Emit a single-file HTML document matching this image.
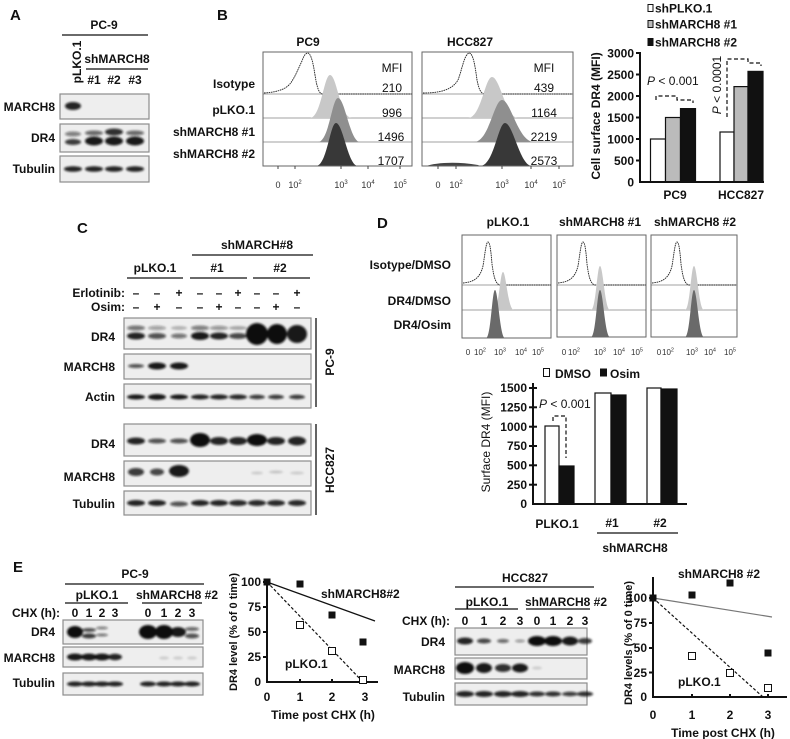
<!DOCTYPE html>
<html><head><meta charset="utf-8"><style>
html,body{margin:0;padding:0;background:#fff;}
svg{display:block;}
text{font-family:"Liberation Sans",Arial,sans-serif;fill:#111;}
.b{font-weight:bold;font-size:12px;}
.n{font-size:12px;}
.L{font-weight:bold;font-size:15px;}
.t{font-size:9px;fill:#333;}
.td{font-size:8px;fill:#333;}
.blot{fill:#eeeeee;stroke:#8c8c8c;stroke-width:1.2;}
.ln{stroke:#111;stroke-width:1.3;}
.ax{stroke:#111;stroke-width:2;fill:none;}
.hb{fill:#fff;stroke:#777;stroke-width:1;}
.dv{stroke:#a0a0a0;stroke-width:1;}
.iso{fill:none;stroke:#222;stroke-width:0.9;stroke-dasharray:1.6 0.7;}
.dash{fill:none;stroke:#111;stroke-width:1.2;stroke-dasharray:4 2.5;}
</style></head><body>
<svg width="790" height="739" viewBox="0 0 790 739" xmlns="http://www.w3.org/2000/svg">
<defs>
<filter id="f" x="-50%" y="-100%" width="200%" height="300%"><feGaussianBlur stdDeviation="1.1"/></filter>
</defs>
<rect width="790" height="739" fill="#fff"/>

<!-- ============ PANEL A ============ -->
<text class="L" x="10" y="20">A</text>
<text class="b" x="104" y="29" text-anchor="middle">PC-9</text>
<line class="ln" x1="62" y1="35" x2="148" y2="35"/>
<text class="b" transform="translate(81,62) rotate(-90)" text-anchor="middle">pLKO.1</text>
<text class="b" x="117" y="63" text-anchor="middle">shMARCH8</text>
<line class="ln" x1="86" y1="69" x2="148" y2="69"/>
<text class="b" x="94" y="84" text-anchor="middle">#1</text>
<text class="b" x="114" y="84" text-anchor="middle">#2</text>
<text class="b" x="135" y="84" text-anchor="middle">#3</text>
<text class="b" x="55" y="111" text-anchor="end">MARCH8</text>
<text class="b" x="55" y="142" text-anchor="end">DR4</text>
<text class="b" x="55" y="173" text-anchor="end">Tubulin</text>
<rect class="blot" x="60" y="94" width="89" height="25"/>
<rect class="blot" x="60" y="124" width="89" height="28"/>
<rect class="blot" x="60" y="156" width="89" height="26"/>
<g fill="#111" filter="url(#f)">
<ellipse cx="73" cy="106" rx="8" ry="4" opacity=".9"/>
<ellipse cx="73" cy="142" rx="8" ry="3" opacity=".8"/><ellipse cx="73" cy="134" rx="8" ry="2.5" opacity=".5"/>
<ellipse cx="94" cy="141" rx="9" ry="4.5" opacity=".95"/><ellipse cx="94" cy="133" rx="9" ry="2.5" opacity=".6"/>
<ellipse cx="114" cy="141" rx="9" ry="4.5" opacity=".95"/><ellipse cx="114" cy="132" rx="9" ry="3.5" opacity=".85"/>
<ellipse cx="135" cy="141" rx="9" ry="4.5" opacity=".95"/><ellipse cx="135" cy="133" rx="9" ry="2.5" opacity=".6"/>
<ellipse cx="73" cy="169" rx="9" ry="2.8" opacity=".9"/><ellipse cx="94" cy="169" rx="9" ry="2.8" opacity=".9"/>
<ellipse cx="114" cy="169" rx="9" ry="2.8" opacity=".9"/><ellipse cx="135" cy="169" rx="9" ry="2.8" opacity=".9"/>
</g>

<!-- ============ PANEL B histograms ============ -->
<text class="L" x="217" y="20">B</text>
<text class="b" x="308" y="46" text-anchor="middle">PC9</text>
<text class="b" x="470" y="46" text-anchor="middle">HCC827</text>
<text class="b" x="255" y="88" text-anchor="end">Isotype</text>
<text class="b" x="255" y="114" text-anchor="end">pLKO.1</text>
<text class="b" x="255" y="136" text-anchor="end">shMARCH8 #1</text>
<text class="b" x="255" y="158" text-anchor="end">shMARCH8 #2</text>

<rect class="hb" x="263" y="52" width="149" height="114"/>
<rect class="hb" x="422" y="52" width="151" height="114"/>
<line class="dv" x1="263" y1="94" x2="412" y2="94"/><line class="dv" x1="263" y1="118" x2="412" y2="118"/><line class="dv" x1="263" y1="142" x2="412" y2="142"/>
<line class="dv" x1="422" y1="94" x2="573" y2="94"/><line class="dv" x1="422" y1="118" x2="573" y2="118"/><line class="dv" x1="422" y1="142" x2="573" y2="142"/>
<!-- PC9 -->
<path class="iso" d="M264,93 C280,92 288,88 292,81 C296,75 298,69 302,61 C304,55 306,53 308,53 C311,54 313,62 315,75 C317,88 319,93 322,94 L412,94"/>
<path d="M310,118 C321,118 324,75 330,75 C337,75 340,118 352,118 Z" fill="#c8c8c8"/>
<path d="M318,142 C329,142 332,98 338,98 C345,98 350,142 360,142 Z" fill="#8f8f8f"/>
<path d="M316,166 C327,166 330,123 336,123 C343,123 348,166 358,166 Z" fill="#383838"/>
<!-- HCC827 -->
<path class="iso" d="M423,93 C440,93 452,90 458,80 C462,70 464,55 469,53 C473,53 475,65 477,80 C479,90 481,93 484,94 L573,94"/>
<path d="M468,118 C481,118 485,77 492,77 C500,77 506,118 518,118 Z" fill="#c8c8c8"/>
<path d="M474,142 C489,142 494,100 502,100 C511,100 518,142 534,142 Z" fill="#8f8f8f"/>
<path d="M426,166 C435,163 455,161 478,165 L480,166 Z" fill="#444"/>
<path d="M480,166 C494,166 498,123 505,123 C513,123 520,166 532,166 Z" fill="#383838"/>
<rect x="263" y="52" width="149" height="114" fill="none" stroke="#666"/>
<rect x="422" y="52" width="151" height="114" fill="none" stroke="#666"/>
<!-- MFI -->
<g class="n" text-anchor="middle">
<text class="n" x="392" y="72" text-anchor="middle">MFI</text>
<text class="n" x="392" y="92" text-anchor="middle">210</text>
<text class="n" x="392" y="117" text-anchor="middle">996</text>
<text class="n" x="391" y="141" text-anchor="middle">1496</text>
<text class="n" x="391" y="165" text-anchor="middle">1707</text>
<text class="n" x="544" y="72" text-anchor="middle">MFI</text>
<text class="n" x="544" y="92" text-anchor="middle">439</text>
<text class="n" x="544" y="117" text-anchor="middle">1164</text>
<text class="n" x="544" y="141" text-anchor="middle">2219</text>
<text class="n" x="544" y="165" text-anchor="middle">2573</text>
</g>
<!-- ticks -->
<g stroke="#444" stroke-width="1">
<line x1="278" y1="166" x2="278" y2="169"/><line x1="295" y1="166" x2="295" y2="169"/><line x1="341" y1="166" x2="341" y2="169"/><line x1="368" y1="166" x2="368" y2="169"/><line x1="400" y1="166" x2="400" y2="169"/>
<line x1="438" y1="166" x2="438" y2="169"/><line x1="456" y1="166" x2="456" y2="169"/><line x1="502" y1="166" x2="502" y2="169"/><line x1="531" y1="166" x2="531" y2="169"/><line x1="559" y1="166" x2="559" y2="169"/>
</g>
<text class="t" x="278" y="188" text-anchor="middle">0</text>
<text class="t" x="295" y="188" text-anchor="middle">10<tspan font-size="6" dy="-4">2</tspan></text>
<text class="t" x="341" y="188" text-anchor="middle">10<tspan font-size="6" dy="-4">3</tspan></text>
<text class="t" x="368" y="188" text-anchor="middle">10<tspan font-size="6" dy="-4">4</tspan></text>
<text class="t" x="400" y="188" text-anchor="middle">10<tspan font-size="6" dy="-4">5</tspan></text>
<text class="t" x="438" y="188" text-anchor="middle">0</text>
<text class="t" x="456" y="188" text-anchor="middle">10<tspan font-size="6" dy="-4">2</tspan></text>
<text class="t" x="502" y="188" text-anchor="middle">10<tspan font-size="6" dy="-4">3</tspan></text>
<text class="t" x="531" y="188" text-anchor="middle">10<tspan font-size="6" dy="-4">4</tspan></text>
<text class="t" x="559" y="188" text-anchor="middle">10<tspan font-size="6" dy="-4">5</tspan></text>

<!-- ============ PANEL B bar chart ============ -->
<rect x="648" y="4.5" width="5" height="7" fill="#fff" stroke="#111"/>
<text class="b" x="655" y="12.5">shPLKO.1</text>
<rect x="648" y="20.5" width="5" height="7" fill="#bbb" stroke="#111"/>
<text class="b" x="655" y="28.5">shMARCH8 #1</text>
<rect x="648" y="38.5" width="5" height="7" fill="#111" stroke="#111"/>
<text class="b" x="655" y="46.5">shMARCH8 #2</text>

<text class="b" transform="translate(600,116) rotate(-90)" text-anchor="middle">Cell surface DR4 (MFI)</text>
<g class="b" text-anchor="end">
<text class="b" x="634" y="57.5" text-anchor="end">3000</text>
<text class="b" x="634" y="79" text-anchor="end">2500</text>
<text class="b" x="634" y="100.5" text-anchor="end">2000</text>
<text class="b" x="634" y="122" text-anchor="end">1500</text>
<text class="b" x="634" y="143.5" text-anchor="end">1000</text>
<text class="b" x="634" y="165" text-anchor="end">500</text>
<text class="b" x="634" y="186.5" text-anchor="end">0</text>
</g>
<g stroke="#111" stroke-width="1.2">
<rect x="650.5" y="139" width="15" height="43" fill="#fff"/>
<rect x="665.5" y="117.5" width="15" height="64.5" fill="#bbb"/>
<rect x="680.5" y="108.6" width="15" height="73.4" fill="#111"/>
<rect x="720" y="132" width="14" height="50" fill="#fff"/>
<rect x="734" y="86.6" width="14" height="95.4" fill="#bbb"/>
<rect x="748" y="71.4" width="15" height="110.6" fill="#111"/>
</g>
<path class="ax" d="M640,52 L640,182 L764,182"/>
<g stroke="#111" stroke-width="2">
<line x1="636" y1="53" x2="640" y2="53"/><line x1="636" y1="74.5" x2="640" y2="74.5"/><line x1="636" y1="96" x2="640" y2="96"/><line x1="636" y1="117.5" x2="640" y2="117.5"/><line x1="636" y1="139" x2="640" y2="139"/><line x1="636" y1="160.5" x2="640" y2="160.5"/>
</g>
<text class="b" x="675" y="199" text-anchor="middle">PC9</text>
<text class="b" x="741" y="199" text-anchor="middle">HCC827</text>
<text class="n" x="647" y="85"><tspan font-style="italic">P</tspan> &lt; 0.001</text>
<path class="dash" d="M656,100 L656,96 L677,96 L677,100 L693,100 L693,103"/>
<text class="n" transform="translate(721,85) rotate(-90)" text-anchor="middle"><tspan font-style="italic">P</tspan> &lt; 0.0001</text>
<path class="dash" d="M727,117 L727,59 L748,59 L748,63 L761,63 L761,66"/>

<!-- ============ PANEL C ============ -->
<text class="L" x="77" y="233">C</text>
<text class="b" x="257" y="249" text-anchor="middle">shMARCH#8</text>
<line class="ln" x1="192" y1="255" x2="313" y2="255"/>
<text class="b" x="155" y="272" text-anchor="middle">pLKO.1</text>
<text class="b" x="217" y="272" text-anchor="middle">#1</text>
<text class="b" x="280" y="272" text-anchor="middle">#2</text>
<line class="ln" x1="127" y1="278" x2="183" y2="278"/>
<line class="ln" x1="190" y1="278" x2="247" y2="278"/>
<line class="ln" x1="253" y1="278" x2="310" y2="278"/>
<text class="b" x="125" y="297" text-anchor="end">Erlotinib:</text>
<text class="b" x="125" y="311" text-anchor="end">Osim:</text>
<g class="b" text-anchor="middle">
<text class="b" x="136" y="297" text-anchor="middle">–</text><text class="b" x="157" y="297" text-anchor="middle">–</text><text class="b" x="179" y="297" text-anchor="middle">+</text>
<text class="b" x="200" y="297" text-anchor="middle">–</text><text class="b" x="219" y="297" text-anchor="middle">–</text><text class="b" x="238" y="297" text-anchor="middle">+</text>
<text class="b" x="257" y="297" text-anchor="middle">–</text><text class="b" x="276" y="297" text-anchor="middle">–</text><text class="b" x="297" y="297" text-anchor="middle">+</text>
<text class="b" x="136" y="311" text-anchor="middle">–</text><text class="b" x="157" y="311" text-anchor="middle">+</text><text class="b" x="179" y="311" text-anchor="middle">–</text>
<text class="b" x="200" y="311" text-anchor="middle">–</text><text class="b" x="219" y="311" text-anchor="middle">+</text><text class="b" x="238" y="311" text-anchor="middle">–</text>
<text class="b" x="257" y="311" text-anchor="middle">–</text><text class="b" x="276" y="311" text-anchor="middle">+</text><text class="b" x="297" y="311" text-anchor="middle">–</text>
</g>
<text class="b" x="115" y="341" text-anchor="end">DR4</text>
<text class="b" x="115" y="371" text-anchor="end">MARCH8</text>
<text class="b" x="115" y="401" text-anchor="end">Actin</text>
<text class="b" x="115" y="448" text-anchor="end">DR4</text>
<text class="b" x="115" y="481" text-anchor="end">MARCH8</text>
<text class="b" x="115" y="508" text-anchor="end">Tubulin</text>
<rect class="blot" x="124" y="318" width="187" height="31"/>
<rect class="blot" x="124" y="354" width="187" height="25"/>
<rect class="blot" x="124" y="384" width="187" height="24"/>
<rect class="blot" x="124" y="424" width="187" height="32"/>
<rect class="blot" x="124" y="461" width="187" height="25"/>
<rect class="blot" x="124" y="491" width="187" height="24"/>
<g fill="#111" filter="url(#f)">
<!-- PC-9 DR4 -->
<ellipse cx="136" cy="336" rx="9" ry="3.5" opacity=".9"/><ellipse cx="136" cy="328" rx="9" ry="2.5" opacity=".55"/>
<ellipse cx="157" cy="336" rx="9" ry="3" opacity=".7"/><ellipse cx="157" cy="328" rx="9" ry="2.2" opacity=".35"/>
<ellipse cx="179" cy="336" rx="8" ry="2.5" opacity=".55"/><ellipse cx="179" cy="328" rx="8" ry="2" opacity=".25"/>
<ellipse cx="200" cy="336" rx="9" ry="4" opacity=".95"/><ellipse cx="200" cy="328" rx="9" ry="2.5" opacity=".5"/>
<ellipse cx="219" cy="336" rx="9" ry="3.5" opacity=".9"/><ellipse cx="219" cy="328" rx="9" ry="2.2" opacity=".4"/>
<ellipse cx="238" cy="336" rx="9" ry="3" opacity=".75"/><ellipse cx="238" cy="328" rx="9" ry="2" opacity=".3"/>
<ellipse cx="257" cy="334" rx="11" ry="11" opacity="1"/>
<ellipse cx="277" cy="334" rx="10" ry="10" opacity="1"/>
<ellipse cx="297" cy="334" rx="10" ry="9" opacity=".95"/>
<!-- PC-9 MARCH8 -->
<ellipse cx="136" cy="366" rx="8" ry="2" opacity=".7"/>
<ellipse cx="157" cy="366" rx="9" ry="3.5" opacity=".95"/>
<ellipse cx="179" cy="366" rx="9" ry="3.5" opacity=".95"/>
<!-- Actin -->
<ellipse cx="136" cy="397" rx="9" ry="2.5" opacity=".95"/><ellipse cx="157" cy="397" rx="9" ry="3" opacity=".95"/><ellipse cx="179" cy="397" rx="9" ry="2.5" opacity=".95"/>
<ellipse cx="200" cy="397" rx="9" ry="2.5" opacity=".9"/><ellipse cx="219" cy="397" rx="9" ry="2.5" opacity=".9"/><ellipse cx="238" cy="397" rx="9" ry="2.5" opacity=".88"/>
<ellipse cx="257" cy="397" rx="8" ry="2.2" opacity=".8"/><ellipse cx="276" cy="397" rx="8" ry="2.2" opacity=".8"/><ellipse cx="297" cy="397" rx="8" ry="2.2" opacity=".8"/>
<!-- HCC827 DR4 -->
<ellipse cx="136" cy="441" rx="9" ry="3.5" opacity=".9"/><ellipse cx="157" cy="441" rx="9" ry="2.5" opacity=".7"/><ellipse cx="179" cy="441" rx="9" ry="2.5" opacity=".7"/>
<ellipse cx="200" cy="440" rx="10" ry="7" opacity="1"/><ellipse cx="219" cy="441" rx="9" ry="4" opacity=".9"/><ellipse cx="238" cy="441" rx="9" ry="4" opacity=".9"/>
<ellipse cx="257" cy="440" rx="10" ry="6" opacity="1"/><ellipse cx="276" cy="441" rx="9" ry="4" opacity=".9"/><ellipse cx="297" cy="441" rx="9" ry="4.5" opacity=".9"/>
<!-- HCC827 MARCH8 -->
<ellipse cx="136" cy="472" rx="8" ry="4" opacity=".8"/><ellipse cx="157" cy="472" rx="7" ry="3.5" opacity=".75"/><ellipse cx="179" cy="471" rx="10" ry="6" opacity=".95"/>
<ellipse cx="257" cy="473" rx="6" ry="1.5" opacity=".15"/><ellipse cx="276" cy="472" rx="7" ry="1.5" opacity=".18"/><ellipse cx="297" cy="473" rx="7" ry="1.5" opacity=".15"/>
<!-- HCC827 Tubulin -->
<ellipse cx="136" cy="503" rx="9" ry="3" opacity=".9"/><ellipse cx="157" cy="503" rx="9" ry="3" opacity=".9"/><ellipse cx="179" cy="504" rx="9" ry="2.5" opacity=".7"/>
<ellipse cx="200" cy="503" rx="9" ry="3" opacity=".9"/><ellipse cx="219" cy="503" rx="9" ry="3" opacity=".9"/><ellipse cx="238" cy="503" rx="9" ry="3" opacity=".88"/>
<ellipse cx="257" cy="503" rx="9" ry="3" opacity=".88"/><ellipse cx="276" cy="503" rx="9" ry="3" opacity=".88"/><ellipse cx="297" cy="503" rx="9" ry="3" opacity=".88"/>
</g>
<line class="ln" x1="316" y1="318" x2="316" y2="407"/>
<line class="ln" x1="316" y1="424" x2="316" y2="515"/>
<text class="b" transform="translate(334,362) rotate(-90)" text-anchor="middle">PC-9</text>
<text class="b" transform="translate(334,470) rotate(-90)" text-anchor="middle">HCC827</text>

<!-- ============ PANEL D histograms ============ -->
<text class="L" x="377" y="228">D</text>
<text class="b" x="508" y="226" text-anchor="middle">pLKO.1</text>
<text class="b" x="600" y="226" text-anchor="middle">shMARCH8 #1</text>
<text class="b" x="695" y="226" text-anchor="middle">shMARCH8 #2</text>
<text class="b" x="451" y="269" text-anchor="end">Isotype/DMSO</text>
<text class="b" x="451" y="305" text-anchor="end">DR4/DMSO</text>
<text class="b" x="451" y="329" text-anchor="end">DR4/Osim</text>
<rect class="hb" x="462" y="235" width="89" height="103"/>
<rect class="hb" x="557" y="235" width="89" height="102"/>
<rect class="hb" x="651" y="235" width="86" height="102"/>
<line class="dv" x1="462" y1="285" x2="551" y2="285"/><line class="dv" x1="462" y1="310" x2="551" y2="310"/>
<line class="dv" x1="557" y1="285" x2="646" y2="285"/><line class="dv" x1="557" y1="310" x2="646" y2="310"/>
<line class="dv" x1="651" y1="285" x2="737" y2="285"/><line class="dv" x1="651" y1="310" x2="737" y2="310"/>
<path class="iso" d="M463,283 C474,282 480,278 483,266 C485,254 486,242 488,242 C490,242 491,252 492,264 C494,279 496,284 500,285 L551,285"/>
<path class="iso" d="M558,283 C569,282 575,278 578,266 C580,254 581,242 583,242 C585,242 586,252 587,264 C589,279 591,284 595,285 L646,285"/>
<path class="iso" d="M652,283 C663,282 669,278 672,266 C674,254 675,242 677,242 C679,242 680,252 681,264 C683,279 685,284 689,285 L737,285"/>
<path d="M494,310 C499,310 500,272 503,272 C506,272 508,310 514,310 Z" fill="#c8c8c8"/>
<path d="M486,338 C491,338 492,290 495,290 C498,290 500,338 505,338 Z" fill="#6a6a6a"/>
<path d="M591,310 C596,310 597,266 600,266 C603,266 605,310 610,310 Z" fill="#c8c8c8"/>
<path d="M591,337 C596,337 597,290 600,290 C603,290 605,337 610,337 Z" fill="#6a6a6a"/>
<path d="M685,310 C690,310 691,266 694,266 C697,266 699,310 704,310 Z" fill="#c8c8c8"/>
<path d="M685,337 C690,337 691,290 694,290 C697,290 699,337 704,337 Z" fill="#6a6a6a"/>
<rect x="462" y="235" width="89" height="103" fill="none" stroke="#666"/>
<rect x="557" y="235" width="89" height="102" fill="none" stroke="#666"/>
<rect x="651" y="235" width="86" height="102" fill="none" stroke="#666"/>
<text class="td" x="468" y="355" text-anchor="middle">0</text>
<text class="td" x="480" y="355" text-anchor="middle">10<tspan font-size="5.5" dy="-3.5">2</tspan></text>
<text class="td" x="500" y="355" text-anchor="middle">10<tspan font-size="5.5" dy="-3.5">3</tspan></text>
<text class="td" x="521" y="355" text-anchor="middle">10<tspan font-size="5.5" dy="-3.5">4</tspan></text>
<text class="td" x="538" y="355" text-anchor="middle">10<tspan font-size="5.5" dy="-3.5">5</tspan></text>
<text class="td" x="564" y="355" text-anchor="middle">0</text>
<text class="td" x="574" y="355" text-anchor="middle">10<tspan font-size="5.5" dy="-3.5">2</tspan></text>
<text class="td" x="600" y="355" text-anchor="middle">10<tspan font-size="5.5" dy="-3.5">3</tspan></text>
<text class="td" x="619" y="355" text-anchor="middle">10<tspan font-size="5.5" dy="-3.5">4</tspan></text>
<text class="td" x="637" y="355" text-anchor="middle">10<tspan font-size="5.5" dy="-3.5">5</tspan></text>
<text class="td" x="659" y="355" text-anchor="middle">0</text>
<text class="td" x="668" y="355" text-anchor="middle">10<tspan font-size="5.5" dy="-3.5">2</tspan></text>
<text class="td" x="692" y="355" text-anchor="middle">10<tspan font-size="5.5" dy="-3.5">3</tspan></text>
<text class="td" x="710" y="355" text-anchor="middle">10<tspan font-size="5.5" dy="-3.5">4</tspan></text>
<text class="td" x="730" y="355" text-anchor="middle">10<tspan font-size="5.5" dy="-3.5">5</tspan></text>

<!-- ============ PANEL D bar chart ============ -->
<rect x="543.5" y="368.5" width="6" height="8" fill="#fff" stroke="#111"/>
<text class="b" x="555" y="378">DMSO</text>
<rect x="600" y="368.5" width="7" height="8" fill="#111"/>
<text class="b" x="610" y="378">Osim</text>
<text class="n" transform="translate(490,442) rotate(-90)" text-anchor="middle">Surface DR4 (MFI)</text>
<text class="b" x="527" y="392" text-anchor="end">1500</text>
<text class="b" x="527" y="411.5" text-anchor="end">1250</text>
<text class="b" x="527" y="431" text-anchor="end">1000</text>
<text class="b" x="527" y="450" text-anchor="end">750</text>
<text class="b" x="527" y="469.5" text-anchor="end">500</text>
<text class="b" x="527" y="489" text-anchor="end">250</text>
<text class="b" x="527" y="508" text-anchor="end">0</text>
<g stroke="#111" stroke-width="1.2">
<rect x="545" y="426" width="14" height="78" fill="#fff"/>
<rect x="559" y="466" width="15" height="38" fill="#111"/>
<rect x="595" y="393" width="16" height="111" fill="#fff"/>
<rect x="611" y="395" width="15" height="109" fill="#111"/>
<rect x="647" y="388" width="14" height="116" fill="#fff"/>
<rect x="661" y="389" width="16" height="115" fill="#111"/>
</g>
<path class="ax" d="M533,383 L533,504 L687,504"/>
<g stroke="#111" stroke-width="2">
<line x1="529" y1="388" x2="537" y2="388"/><line x1="529" y1="407.3" x2="537" y2="407.3"/><line x1="529" y1="426.7" x2="537" y2="426.7"/><line x1="529" y1="446" x2="537" y2="446"/><line x1="529" y1="465.3" x2="537" y2="465.3"/><line x1="529" y1="484.7" x2="537" y2="484.7"/>
</g>
<text class="n" x="539" y="408"><tspan font-style="italic">P</tspan> &lt; 0.001</text>
<path class="dash" d="M553,421 L553,416 L566,416 L566,458"/>
<text class="b" x="557" y="528" text-anchor="middle">PLKO.1</text>
<text class="b" x="612" y="527" text-anchor="middle">#1</text>
<text class="b" x="660" y="527" text-anchor="middle">#2</text>
<line class="ln" x1="597" y1="533" x2="678" y2="533"/>
<text class="b" x="635" y="552" text-anchor="middle">shMARCH8</text>

<!-- ============ PANEL E left ============ -->
<text class="L" x="13" y="572">E</text>
<text class="b" x="135" y="578" text-anchor="middle">PC-9</text>
<line class="ln" x1="65" y1="584" x2="204" y2="584"/>
<text class="b" x="97" y="599" text-anchor="middle">pLKO.1</text>
<text class="b" x="177" y="599" text-anchor="middle">shMARCH8 #2</text>
<line class="ln" x1="65" y1="603" x2="128" y2="603"/>
<line class="ln" x1="142" y1="603" x2="202" y2="603"/>
<text class="b" x="60" y="617" text-anchor="end">CHX (h):</text>
<text class="b" x="75" y="617" text-anchor="middle">0</text><text class="b" x="89" y="617" text-anchor="middle">1</text><text class="b" x="102" y="617" text-anchor="middle">2</text><text class="b" x="115" y="617" text-anchor="middle">3</text>
<text class="b" x="148" y="617" text-anchor="middle">0</text><text class="b" x="164" y="617" text-anchor="middle">1</text><text class="b" x="178" y="617" text-anchor="middle">2</text><text class="b" x="192" y="617" text-anchor="middle">3</text>
<text class="b" x="55" y="636" text-anchor="end">DR4</text>
<text class="b" x="55" y="662" text-anchor="end">MARCH8</text>
<text class="b" x="55" y="687" text-anchor="end">Tubulin</text>
<rect class="blot" x="63" y="620" width="140" height="24"/>
<rect class="blot" x="63" y="647" width="140" height="20"/>
<rect class="blot" x="63" y="673" width="140" height="22"/>
<g fill="#111" filter="url(#f)">
<ellipse cx="75" cy="632" rx="8" ry="6" opacity="1"/>
<ellipse cx="89" cy="630" rx="7" ry="2" opacity=".7"/><ellipse cx="89" cy="636" rx="7" ry="2.5" opacity=".8"/>
<ellipse cx="102" cy="628" rx="6" ry="1.5" opacity=".5"/><ellipse cx="102" cy="635" rx="6" ry="1.5" opacity=".55"/>
<ellipse cx="148" cy="632" rx="9" ry="7" opacity="1"/><ellipse cx="164" cy="632" rx="9" ry="7" opacity="1"/>
<ellipse cx="178" cy="632" rx="8" ry="5" opacity=".95"/>
<ellipse cx="192" cy="629" rx="7" ry="2" opacity=".6"/><ellipse cx="192" cy="636" rx="7" ry="2.5" opacity=".7"/>
<ellipse cx="75" cy="657" rx="8" ry="3.5" opacity=".95"/><ellipse cx="89" cy="657" rx="8" ry="3.5" opacity=".95"/><ellipse cx="102" cy="657" rx="8" ry="3.5" opacity=".95"/><ellipse cx="115" cy="657" rx="7" ry="3.2" opacity=".9"/>
<ellipse cx="164" cy="658" rx="5" ry="1.5" opacity=".15"/><ellipse cx="178" cy="658" rx="5" ry="1.5" opacity=".15"/><ellipse cx="192" cy="658" rx="5" ry="1.5" opacity=".15"/>
<ellipse cx="75" cy="684" rx="8" ry="2.5" opacity=".9"/><ellipse cx="89" cy="684" rx="8" ry="2.5" opacity=".9"/><ellipse cx="102" cy="684" rx="8" ry="2.5" opacity=".9"/><ellipse cx="115" cy="684" rx="8" ry="2.5" opacity=".9"/>
<ellipse cx="148" cy="684" rx="8" ry="2.5" opacity=".9"/><ellipse cx="164" cy="684" rx="8" ry="2.5" opacity=".9"/><ellipse cx="178" cy="684" rx="8" ry="2.5" opacity=".9"/><ellipse cx="192" cy="684" rx="8" ry="2.5" opacity=".9"/>
</g>
<!-- graph E left -->
<text class="b" font-size="11" style="font-size:11px" transform="translate(237,632) rotate(-90)" text-anchor="middle">DR4 level (% of 0 time)</text>
<text class="b" x="261" y="586" text-anchor="end">100</text>
<text class="b" x="261" y="611" text-anchor="end">75</text>
<text class="b" x="261" y="636" text-anchor="end">50</text>
<text class="b" x="261" y="661" text-anchor="end">25</text>
<text class="b" x="261" y="686" text-anchor="end">0</text>
<path class="ax" d="M267,579 L267,682 L378,682"/>
<g stroke="#111" stroke-width="2">
<line x1="263" y1="582" x2="267" y2="582"/><line x1="263" y1="607" x2="267" y2="607"/><line x1="263" y1="632" x2="267" y2="632"/><line x1="263" y1="657" x2="267" y2="657"/>
<line x1="300" y1="679" x2="300" y2="682"/><line x1="332" y1="679" x2="332" y2="682"/><line x1="365" y1="679" x2="365" y2="682"/>
</g>
<text class="b" x="267" y="701" text-anchor="middle">0</text>
<text class="b" x="300" y="701" text-anchor="middle">1</text>
<text class="b" x="332" y="701" text-anchor="middle">2</text>
<text class="b" x="365" y="701" text-anchor="middle">3</text>
<text class="b" x="323" y="719" text-anchor="middle">Time post CHX (h)</text>
<line x1="267" y1="582" x2="375" y2="621" stroke="#111" stroke-width="1.2"/>
<line x1="267" y1="582" x2="363" y2="682" stroke="#111" stroke-width="1.2" stroke-dasharray="3 2"/>
<g fill="#111">
<rect x="263.5" y="578.5" width="7" height="7"/><rect x="296.5" y="580.5" width="7" height="7"/><rect x="328.5" y="611.5" width="7" height="7"/><rect x="359.5" y="638.5" width="7" height="7"/>
</g>
<g fill="#fff" stroke="#111" stroke-width="1">
<rect x="296.5" y="621.5" width="7" height="7"/><rect x="328.5" y="647.5" width="7" height="7"/><rect x="359.5" y="676.5" width="7" height="7"/>
</g>
<text class="b" x="321" y="598">shMARCH8#2</text>
<text class="b" x="285" y="668">pLKO.1</text>

<!-- ============ PANEL E right ============ -->
<text class="b" x="525" y="582" text-anchor="middle">HCC827</text>
<line class="ln" x1="455" y1="587" x2="594" y2="587"/>
<text class="b" x="487" y="606" text-anchor="middle">pLKO.1</text>
<text class="b" x="566" y="606" text-anchor="middle">shMARCH8 #2</text>
<line class="ln" x1="455" y1="609" x2="518" y2="609"/>
<line class="ln" x1="526" y1="609" x2="590" y2="609"/>
<text class="b" x="450" y="625" text-anchor="end">CHX (h):</text>
<text class="b" x="465" y="625" text-anchor="middle">0</text><text class="b" x="484" y="625" text-anchor="middle">1</text><text class="b" x="503" y="625" text-anchor="middle">2</text><text class="b" x="520" y="625" text-anchor="middle">3</text>
<text class="b" x="537" y="625" text-anchor="middle">0</text><text class="b" x="553" y="625" text-anchor="middle">1</text><text class="b" x="570" y="625" text-anchor="middle">2</text><text class="b" x="585" y="625" text-anchor="middle">3</text>
<text class="b" x="445" y="646" text-anchor="end">DR4</text>
<text class="b" x="445" y="674" text-anchor="end">MARCH8</text>
<text class="b" x="445" y="701" text-anchor="end">Tubulin</text>
<rect class="blot" x="455" y="628" width="132" height="27"/>
<rect class="blot" x="455" y="658" width="132" height="21"/>
<rect class="blot" x="455" y="683" width="132" height="22"/>
<g fill="#111" filter="url(#f)">
<ellipse cx="465" cy="641" rx="8" ry="3.5" opacity=".9"/><ellipse cx="484" cy="641" rx="7" ry="2.5" opacity=".75"/><ellipse cx="503" cy="641" rx="6" ry="2" opacity=".6"/><ellipse cx="520" cy="641" rx="5" ry="1.5" opacity=".4"/>
<ellipse cx="537" cy="641" rx="9" ry="5" opacity="1"/><ellipse cx="553" cy="641" rx="9" ry="5" opacity="1"/><ellipse cx="570" cy="641" rx="8" ry="4.5" opacity=".95"/><ellipse cx="585" cy="641" rx="7" ry="3" opacity=".8"/>
<ellipse cx="465" cy="668" rx="9" ry="6" opacity="1"/><ellipse cx="484" cy="668" rx="8" ry="5" opacity=".95"/><ellipse cx="503" cy="668" rx="8" ry="4" opacity=".85"/><ellipse cx="520" cy="668" rx="8" ry="4.5" opacity=".95"/>
<ellipse cx="537" cy="668" rx="5" ry="1.5" opacity=".15"/>
<ellipse cx="465" cy="694" rx="9" ry="3" opacity=".9"/><ellipse cx="484" cy="694" rx="9" ry="3" opacity=".9"/><ellipse cx="503" cy="694" rx="9" ry="3" opacity=".9"/><ellipse cx="520" cy="694" rx="9" ry="3" opacity=".9"/>
<ellipse cx="537" cy="694" rx="8" ry="2.5" opacity=".85"/><ellipse cx="553" cy="694" rx="8" ry="2.5" opacity=".85"/><ellipse cx="570" cy="694" rx="8" ry="2.2" opacity=".8"/><ellipse cx="585" cy="694" rx="8" ry="2.5" opacity=".85"/>
</g>
<!-- graph E right -->
<text class="b" style="font-size:11px" transform="translate(632,643) rotate(-90)" text-anchor="middle">DR4 levels (% of 0 time)</text>
<text class="b" x="647" y="602" text-anchor="end">100</text>
<text class="b" x="647" y="627" text-anchor="end">75</text>
<text class="b" x="647" y="652" text-anchor="end">50</text>
<text class="b" x="647" y="677" text-anchor="end">25</text>
<text class="b" x="647" y="701" text-anchor="end">0</text>
<path class="ax" d="M653,577 L653,697 L787,697"/>
<g stroke="#111" stroke-width="2">
<line x1="649" y1="598" x2="653" y2="598"/><line x1="649" y1="623" x2="653" y2="623"/><line x1="649" y1="648" x2="653" y2="648"/><line x1="649" y1="672.5" x2="653" y2="672.5"/>
<line x1="692" y1="694" x2="692" y2="697"/><line x1="730" y1="694" x2="730" y2="697"/><line x1="768" y1="694" x2="768" y2="697"/>
</g>
<text class="b" x="653" y="719" text-anchor="middle">0</text>
<text class="b" x="692" y="719" text-anchor="middle">1</text>
<text class="b" x="730" y="719" text-anchor="middle">2</text>
<text class="b" x="768" y="719" text-anchor="middle">3</text>
<text class="b" x="723" y="737" text-anchor="middle">Time post CHX (h)</text>
<line x1="653" y1="598" x2="772" y2="617" stroke="#777" stroke-width="1.2"/>
<line x1="653" y1="598" x2="763" y2="697" stroke="#111" stroke-width="1.2" stroke-dasharray="3 2"/>
<g fill="#111">
<rect x="649.5" y="594.5" width="7" height="7"/><rect x="688.5" y="591.5" width="7" height="7"/><rect x="726.5" y="579.5" width="7" height="7"/><rect x="764.5" y="649.5" width="7" height="7"/>
</g>
<g fill="#fff" stroke="#111" stroke-width="1">
<rect x="688.5" y="652.5" width="7" height="7"/><rect x="726.5" y="669.5" width="7" height="7"/><rect x="764.5" y="684.5" width="7" height="7"/>
</g>
<text class="b" x="678" y="578">shMARCH8 #2</text>
<text class="b" x="678" y="686">pLKO.1</text>
</svg>
</body></html>
